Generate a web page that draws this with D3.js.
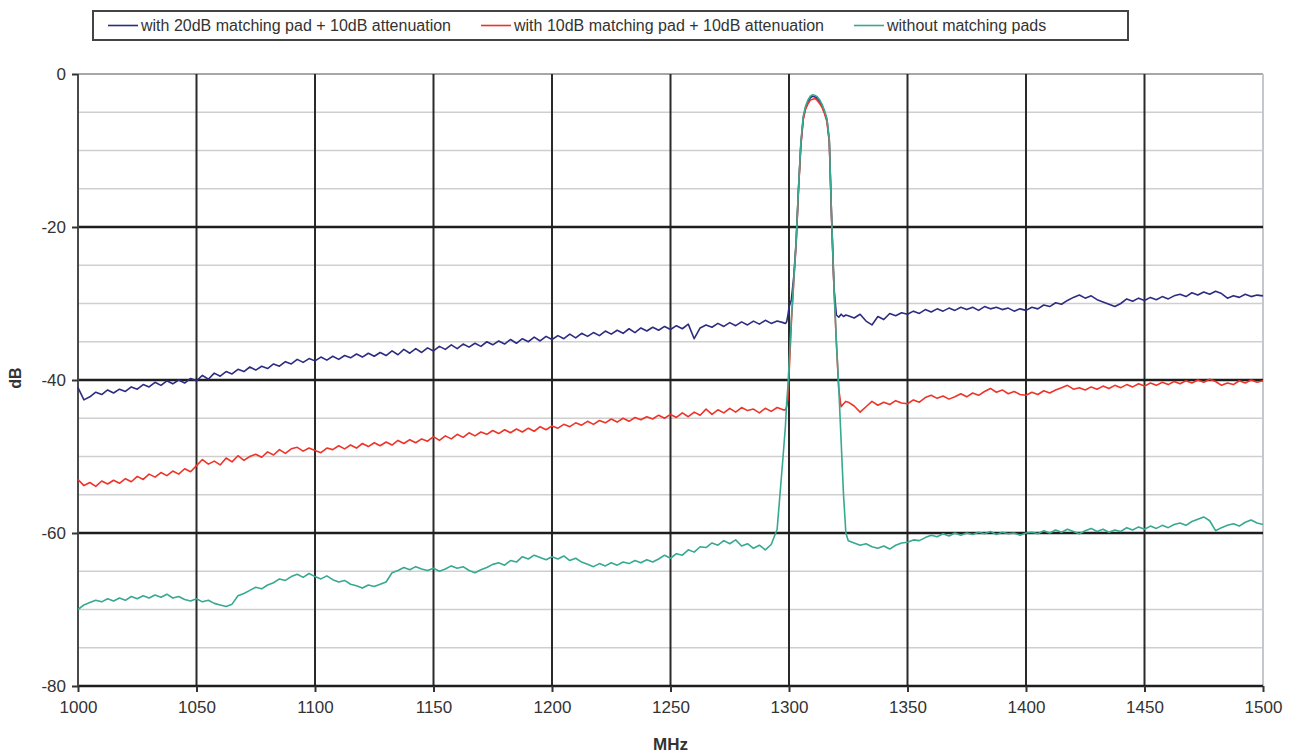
<!DOCTYPE html>
<html>
<head>
<meta charset="utf-8">
<script src="https://d3js.org/d3.v7.min.js"></script>
<style>
  body { margin: 0; background: #fff; }
  text { font-family: "Liberation Sans", Arial, sans-serif; }
</style>
</head>
<body>
<svg id="chart"></svg>
<script>
// series names and colours
var seriesNames = ["with 20dB matching pad + 10dB attenuation", "with 10dB matching pad + 10dB attenuation", "without matching pads"];
var seriesColors = ["#2c2c82", "#ee3429", "#36a990"];

// tick labels
var xTicks = [1000, 1050, 1100, 1150, 1200, 1250, 1300, 1350, 1400, 1450, 1500];
var yTicks = [0, -20, -40, -60, -80];
var yMinor = [-5, -10, -15, -25, -30, -35, -45, -50, -55, -65, -70, -75];

// sampling: low band 1000..1297.5 and high band 1325..1500 every 2.5 MHz, peak band listed
var lowFreqs = d3.range(1000, 1298, 2.5);
var highFreqs = d3.range(1325, 1500.1, 2.5);
var peakFreqs = [1298.5, 1299, 1299.5, 1300, 1301, 1302, 1303, 1304, 1305, 1306, 1307, 1308, 1309, 1310, 1311, 1312, 1313, 1314, 1315, 1316, 1317, 1318, 1319, 1320, 1321, 1322, 1323, 1324];

var blueLow = [
  -41.0, -42.6, -42.2, -41.6, -41.9, -41.3, -41.7, -41.2, -41.5, -40.9,
  -41.2, -40.6, -40.9, -40.3, -40.7, -40.1, -40.5, -40.0, -40.4, -39.8,
  -40.1, -39.4, -39.9, -39.1, -39.5, -38.9, -39.2, -38.6, -38.9, -38.3,
  -38.7, -38.2, -38.5, -37.9, -38.2, -37.6, -37.9, -37.3, -37.7, -37.2,
  -37.5, -37.0, -37.4, -36.9, -37.3, -36.8, -37.1, -36.6, -37.0, -36.5,
  -36.9, -36.4, -36.8, -36.2, -36.7, -36.0, -36.5, -35.9, -36.4, -35.8,
  -36.2, -35.6, -36.0, -35.4, -35.9, -35.3, -35.7, -35.2, -35.6, -35.0,
  -35.4, -34.9, -35.3, -34.7, -35.2, -34.6, -35.0, -34.4, -34.9, -34.3,
  -34.7, -34.2, -34.6, -34.0, -34.5, -33.9, -34.3, -33.8, -34.2, -33.6,
  -34.0, -33.5, -33.9, -33.3, -33.8, -33.2, -33.6, -33.1, -33.5, -33.0,
  -33.4, -32.9, -33.3, -32.7, -34.6, -33.2, -32.8, -33.1, -32.6, -33.0,
  -32.5, -32.9, -32.4, -32.8, -32.3, -32.7, -32.2, -32.6, -32.3, -32.5
];
var bluePeak = [-32.6, -32.4, -31.6, -30.5, -29.5, -26.5, -22, -15, -9.2, -5.8, -4.4, -3.6, -3.1, -2.9, -3.0, -3.2, -3.6, -4.2, -5.0, -6.0, -8.7, -19, -28, -31.5, -31.8, -31.4, -31.7, -31.5];
var blueHigh = [
  -31.6, -31.9, -31.4, -32.3, -32.8, -31.7, -32.1, -31.3, -31.6, -31.2,
  -31.4, -31.0, -31.3, -30.8, -31.1, -30.7, -31.0, -30.6, -30.9, -30.5,
  -30.8, -30.5, -30.9, -30.4, -30.7, -30.5, -30.8, -30.6, -31.0, -30.7,
  -30.9, -30.5, -30.7, -30.2, -30.4, -29.9, -30.1, -29.6, -29.2, -28.9,
  -29.3, -29.0, -29.5, -29.8, -30.1, -30.4, -30.0, -29.4, -29.7, -29.3,
  -29.6, -29.2, -29.5, -29.1, -29.4, -29.0, -28.8, -29.1, -28.6, -28.9,
  -28.5, -28.8, -28.4, -28.7, -29.3, -29.0, -29.2, -28.8, -29.1, -28.9, -29.0
];

var redLow = [
  -53.0, -53.8, -53.4, -53.9, -53.2, -53.6, -53.1, -53.5, -52.9, -53.3,
  -52.6, -53.0, -52.3, -52.7, -52.1, -52.5, -51.9, -52.3, -51.6, -52.0,
  -51.2, -50.4, -51.0, -50.6, -51.1, -50.2, -50.7, -49.9, -50.5, -50.0,
  -49.7, -50.1, -49.4, -49.8, -49.1, -49.6, -49.0, -48.8, -49.3, -48.9,
  -49.2, -49.5, -48.9, -49.1, -48.6, -49.0, -48.5, -48.9, -48.3, -48.7,
  -48.2, -48.6, -48.1, -48.5, -47.9, -48.3, -47.8, -48.2, -47.7, -48.0,
  -47.4, -47.9, -47.3, -47.7, -47.1, -47.5, -46.9, -47.3, -46.8, -47.1,
  -46.6, -47.0, -46.5, -46.9, -46.4, -46.8, -46.3, -46.7, -46.1, -46.5,
  -46.0, -46.3, -45.8, -46.1, -45.6, -45.9, -45.4, -45.8, -45.3, -45.6,
  -45.1, -45.5, -45.0, -45.4, -44.9, -45.2, -44.8, -45.1, -44.6, -45.0,
  -44.5, -44.9, -44.3, -44.8, -44.2, -44.6, -43.8, -44.5, -43.9, -44.3,
  -43.7, -44.2, -43.6, -44.0, -43.8, -44.3, -43.7, -44.1, -43.6, -43.9
];
var redPeak = [-43.9, -43.5, -42.5, -39.5, -32.5, -27.2, -22.3, -15.3, -9.4, -6.0, -4.6, -3.9, -3.4, -3.3, -3.2, -3.5, -3.9, -4.4, -5.2, -6.2, -8.9, -19.2, -28.2, -35.2, -41.2, -43.5, -43.1, -42.8];
var redHigh = [
  -42.9, -43.4, -44.2, -43.5, -42.8, -43.3, -42.9, -43.2, -42.7, -43.0,
  -43.1, -42.6, -42.9, -42.3, -42.0, -42.4, -42.1, -42.5, -42.2, -41.8,
  -42.2, -41.7, -42.0, -41.5, -41.1, -41.6, -41.3, -41.8, -41.5, -41.9,
  -42.0, -41.6, -41.9, -41.4, -41.7, -41.3, -41.0, -40.7, -41.2, -41.0,
  -41.3, -40.9, -41.2, -40.8, -41.1, -40.7, -41.0, -40.6, -40.9, -40.5,
  -40.8, -40.4, -40.7, -40.3, -40.6, -40.2, -40.5, -40.1, -40.4, -40.0,
  -40.3, -39.9, -40.2, -40.7, -40.4, -40.6, -40.1, -40.4, -40.0, -40.3, -40.1
];

var tealLow = [
  -70.0, -69.4, -69.1, -68.8, -69.0, -68.6, -68.9, -68.5, -68.8, -68.3,
  -68.6, -68.2, -68.5, -68.1, -68.4, -68.0, -68.5, -68.3, -68.7, -68.9,
  -68.6, -69.0, -68.8, -69.2, -69.4, -69.6, -69.3, -68.2, -67.9, -67.5,
  -67.1, -67.3, -66.8, -66.5, -66.0, -66.2, -65.7, -65.4, -65.8, -65.3,
  -65.7, -66.0, -65.6, -66.1, -66.4, -66.2, -66.7, -66.9, -67.2, -66.8,
  -67.0, -66.7, -66.4, -65.2, -64.9, -64.5, -64.8, -64.4, -64.7, -64.9,
  -64.6, -65.0, -64.7, -64.3, -64.6, -64.4, -64.9, -65.2, -64.8, -64.5,
  -64.1, -63.9, -64.2, -63.6, -63.8, -63.1, -63.4, -62.9, -63.2, -63.5,
  -63.1, -63.4, -63.0, -63.6, -63.3, -63.8, -64.1, -64.4, -64.0, -64.3,
  -63.9, -64.2, -63.8, -64.0, -63.6, -63.9, -63.5, -63.8, -63.4, -62.9,
  -63.3, -62.7, -62.9, -62.2, -62.5, -61.8, -61.9, -61.3, -61.6, -61.0,
  -61.4, -60.9, -61.7, -61.4, -62.0, -61.6, -62.2, -61.5, -59.5, -50.0
];
var tealPeak = [-46, -43, -41, -38, -32, -27, -22, -15, -9, -5.5, -4.2, -3.4, -2.9, -2.7, -2.8, -3.0, -3.4, -4.0, -4.8, -5.8, -8.5, -19, -28, -35, -41, -48, -55, -60];
var tealHigh = [
  -61.0, -61.3, -61.6, -61.4, -61.8, -62.0, -61.7, -62.1, -61.6, -61.3,
  -61.2, -60.9, -61.0, -60.6, -60.3, -60.5, -60.1, -60.4, -60.0, -60.3,
  -60.0, -60.2, -59.9, -60.1, -59.8, -60.2, -59.9, -60.1, -60.0, -60.3,
  -60.0, -59.9, -60.1, -59.7, -60.0, -59.6, -59.9, -59.5, -59.8, -60.1,
  -59.7, -59.4, -59.8, -59.5, -59.9, -59.6, -59.8, -59.3, -59.6, -59.2,
  -59.5, -59.1, -59.4, -59.0, -59.3, -58.9, -58.7, -59.0, -58.5, -58.2,
  -57.9, -58.4, -59.7, -59.3, -59.0, -58.8, -59.1, -58.6, -58.3, -58.7, -58.9
];

function joinSeries(low, peak, high) {
  var pts = [];
  lowFreqs.forEach((f, i) => pts.push([f, low[i]]));
  peakFreqs.forEach((f, i) => pts.push([f, peak[i]]));
  highFreqs.forEach((f, i) => pts.push([f, high[i]]));
  return pts;
}
var allSeries = [
  joinSeries(blueLow, bluePeak, blueHigh),
  joinSeries(redLow, redPeak, redHigh),
  joinSeries(tealLow, tealPeak, tealHigh)
];

var width = 1301, height = 756;
var plotLeft = 78, plotRight = 1263, plotTop = 74, plotBottom = 686;
var svg = d3.select("#chart").attr("width", width).attr("height", height);

var x = d3.scaleLinear().domain([1000, 1500]).range([plotLeft, plotRight]);
var y = d3.scaleLinear().domain([-80, 0]).range([plotBottom, plotTop]);

// minor horizontal grid
svg.append("g").selectAll("line").data(yMinor).join("line")
  .attr("x1", plotLeft).attr("x2", plotRight).attr("y1", d => y(d)).attr("y2", d => y(d))
  .attr("stroke", "#cfcfcf").attr("stroke-width", 1.5);
// top border and right border
svg.append("line").attr("x1", plotLeft).attr("x2", plotRight).attr("y1", y(0)).attr("y2", y(0)).attr("stroke", "#8a8a8a").attr("stroke-width", 1.5);
svg.append("line").attr("x1", x(1500)).attr("x2", x(1500)).attr("y1", plotTop).attr("y2", plotBottom).attr("stroke", "#c4c8cc").attr("stroke-width", 2);
// vertical major grid
svg.append("g").selectAll("line").data(xTicks.filter(d => d > 1000 && d < 1500)).join("line")
  .attr("x1", d => x(d)).attr("x2", d => x(d)).attr("y1", plotTop).attr("y2", plotBottom)
  .attr("stroke", "#2a2a2a").attr("stroke-width", 2);
// horizontal major grid
svg.append("g").selectAll("line").data(yTicks.filter(d => d < 0)).join("line")
  .attr("x1", plotLeft).attr("x2", plotRight).attr("y1", d => y(d)).attr("y2", d => y(d))
  .attr("stroke", "#1e1e1e").attr("stroke-width", 2.5);
// left axis line
svg.append("line").attr("x1", plotLeft).attr("x2", plotLeft).attr("y1", plotTop).attr("y2", plotBottom).attr("stroke", "#4a4a4a").attr("stroke-width", 2);

// axes (plain hyphen minus like the original)
var plainFormat = d => String(d);
var yAxis = svg.append("g").attr("transform", "translate(" + plotLeft + ",0)")
  .call(d3.axisLeft(y).tickValues(yTicks).tickSize(6).tickPadding(6).tickFormat(plainFormat));
var xAxis = svg.append("g").attr("transform", "translate(0," + plotBottom + ")")
  .call(d3.axisBottom(x).tickValues(xTicks).tickSize(6).tickPadding(9).tickFormat(plainFormat));
[yAxis, xAxis].forEach(a => {
  a.select(".domain").remove();
  a.selectAll(".tick line").attr("stroke", "#333").attr("stroke-width", 2);
  a.selectAll(".tick text").style("font-size", "17px").style("font-family", "Liberation Sans, Arial, sans-serif").attr("fill", "#333");
});

// series
var line = d3.line().x(d => x(d[0])).y(d => y(d[1]));
allSeries.forEach((s, i) => {
  svg.append("path").datum(s).attr("d", line).attr("fill", "none")
    .attr("stroke", seriesColors[i]).attr("stroke-width", 1.6).attr("stroke-linejoin", "round");
});

// axis titles
svg.append("text").attr("x", (plotLeft + plotRight) / 2).attr("y", 750).attr("text-anchor", "middle")
  .style("font-size", "17px").style("font-weight", "bold").attr("fill", "#333").text("MHz");
svg.append("text").attr("transform", "translate(21,378) rotate(-90)").attr("text-anchor", "middle")
  .style("font-size", "16px").style("font-weight", "bold").attr("fill", "#333").text("dB");

// legend
var legend = svg.append("g");
legend.append("rect").attr("x", 93).attr("y", 11).attr("width", 1035).attr("height", 29)
  .attr("fill", "#fff").attr("stroke", "#444").attr("stroke-width", 2);
var lx = 108;
seriesNames.forEach((name, i) => {
  legend.append("line").attr("x1", lx).attr("x2", lx + 30).attr("y1", 25.5).attr("y2", 25.5)
    .attr("stroke", seriesColors[i]).attr("stroke-width", 1.6);
  var t = legend.append("text").attr("x", lx + 33).attr("y", 31).style("font-size", "16px").attr("fill", "#333").text(name);
  lx = lx + 33 + t.node().getComputedTextLength() + 30;
});
</script>
</body>
</html>
